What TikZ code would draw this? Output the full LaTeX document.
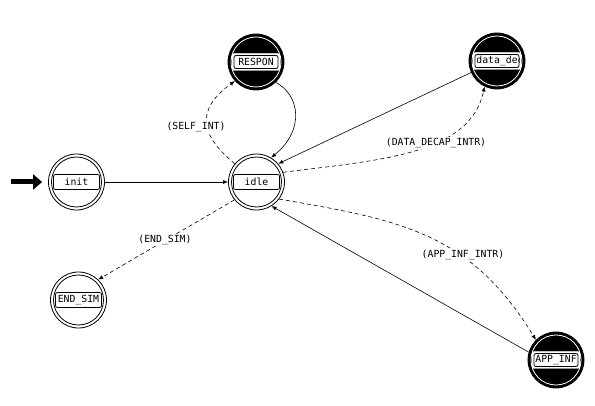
\documentclass[tikz,border=0pt]{standalone}
\usepackage{fontspec}
\newfontfamily\labfont{DejaVu Sans Mono}
\newcommand{\lab}{\labfont\fontsize{9.8}{12}\selectfont}
\usetikzlibrary{arrows.meta}
\tikzset{
 wout/.style={circle,draw,minimum size=56pt,inner sep=0pt,line width=0.8pt},
 win/.style={circle,draw,minimum size=50pt,inner sep=0pt,line width=0.8pt},
 bout/.style={circle,draw,fill=black,minimum size=56pt,inner sep=0pt,line width=0.8pt},
 bin/.style={circle,draw=white,minimum size=50pt,inner sep=0pt,line width=0.8pt},
 wlab/.style={draw,fill=white,rounded corners=2pt,minimum width=46pt,minimum height=15pt,inner sep=0pt,line width=0.8pt,font=\lab},
 blabo/.style={draw=white,fill=white,rounded corners=2.5pt,minimum width=48pt,minimum height=17pt,inner sep=0pt},
 blab/.style={draw=black,fill=white,rounded corners=2pt,minimum width=44pt,minimum height=13pt,inner sep=0pt,line width=0.8pt,font=\lab},
 elab/.style={fill=white,inner sep=1.5pt,font=\lab},
 tr/.style={-{Latex[length=5pt,width=4pt]},line width=0.6pt},
 tdash/.style={tr,dash pattern=on 4pt off 3pt},
}
\begin{document}
\begin{tikzpicture}[x=1pt,y=-1pt]
\path[fill=white] (0,0) rectangle (595,406);
\useasboundingbox (0,0) rectangle (595,406);
% white states
\node[wout] (init) at (76.5,182) {};
\node[win] (init-in) at (init) {};
\node[wlab] (init-l) at (init) {init};
\node[wout] (idle) at (256.5,182) {};
\node[win] (idle-in) at (idle) {};
\node[wlab] (idle-l) at (idle) {idle};
\node[wout] (endsim) at (78.5,300) {};
\node[win] (endsim-in) at (endsim) {};
\node[wlab] (endsim-l) at (endsim) {END\_SIM};
% black states
\node[bout] (respon) at (256,62) {};
\node[bin] (respon-in) at (respon) {};
\node[blabo] (respon-lo) at (respon) {};
\node[blab] (respon-l) at (respon) {RESPON};
\node[bout] (datadec) at (497,61) {};
\node[bin] (datadec-in) at (datadec) {};
\begin{scope}
\clip (datadec) circle (26pt);
\node[blabo] (datadec-lo) at (datadec) {};
\node[blab,path picture={\node[anchor=west,font=\lab,inner sep=0pt] (datadec-t) at ([xshift=1pt]path picture bounding box.west) {data\_dec};}] (datadec-l) at (datadec) {};
\end{scope}
\node[bout] (appinf) at (556,360) {};
\node[bin] (appinf-in) at (appinf) {};
\node[blabo] (appinf-lo) at (appinf) {};
\node[blab] (appinf-l) at (appinf) {APP\_INF};
% start arrow
\coordinate (start) at (11,182);
\draw[line width=5pt,-{Triangle[length=9pt,width=15pt]},shorten >=6pt] (start) -- (init.west);
% transitions
\draw[tr] (init.east) -- (idle.west);
\draw[tdash] (idle.140) .. controls (200,135) and (195,110) .. (respon.222);
\draw[tr] (respon.314) .. controls (300,95) and (305,130) .. (idle.59);
\draw[tr] (datadec.204) -- (idle.40);
\draw[tdash] (idle.20) .. controls (380,160) and (470,155) .. (datadec.244);
\draw[tdash] (idle.219) -- (endsim.46);
\draw[tdash] (idle.323) .. controls (400,220) and (470,232) .. (appinf.135);
\draw[tr] (appinf.164) -- (idle.302);
% transition labels
\node[elab] (l-self) at (196,127) {(SELF\_INT)};
\node[elab] (l-data) at (436,143) {(DATA\_DECAP\_INTR)};
\node[elab] (l-end) at (165,240) {(END\_SIM)};
\node[elab] (l-app) at (463,255) {(APP\_INF\_INTR)};
\end{tikzpicture}
\end{document}
